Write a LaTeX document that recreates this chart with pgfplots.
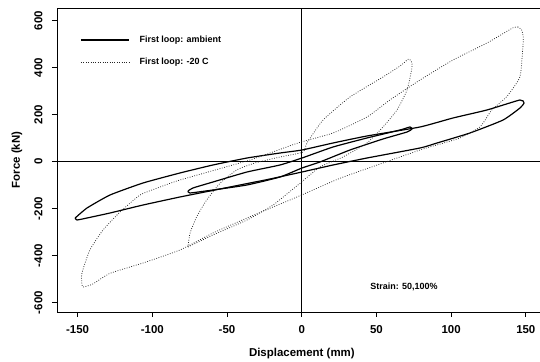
\documentclass[border=0pt]{standalone}
\usepackage{fontspec}
\setmainfont{Liberation Sans}
\usepackage{pgfplots}
\pgfplotsset{compat=1.18}
\begin{document}
\begin{tikzpicture}
\path[use as bounding box] (-57bp,-50bp) rectangle (483bp,312bp);
\begin{axis}[
  scale only axis, width=483bp, height=304bp,
  at={(0,0)}, anchor=south west,
  xmin=-163.8, xmax=159.5, ymin=-639.6, ymax=654,
  axis x line*=bottom, axis y line*=left,
  axis line style={-, line width=0.9pt},
  xtick={-150,-100,...,150}, ytick={-600,-400,...,600},
  tick align=outside, major tick length=5bp,
  tick style={line width=0.8pt, black},
  /pgf/number format/assume math mode=true,
  ticklabel style={font=\fontsize{11.5}{13}\selectfont\bfseries},
  yticklabel style={rotate=90, anchor=south},
  yticklabel shift=6bp, xticklabel shift=5bp,
  xlabel={Displacement (mm)}, ylabel={Force (kN)},
  label style={font=\fontsize{11.5}{13}\selectfont\bfseries},
  xlabel style={at={(axis description cs:0.507,-0.135)}, anchor=center},
  ylabel style={at={(axis description cs:-0.083,0.5)}, anchor=center},
  legend style={draw=none, fill=none, at={(axis description cs:0.048,0.915)}, anchor=north west,
    font=\fontsize{9}{11}\selectfont\bfseries, row sep=10bp, inner sep=0pt, nodes={inner sep=2bp}},
  legend image code/.code={\draw[#1] (0bp,0bp) -- (48bp,0bp); \path (56bp,0bp);},
  legend cell align=left,
]
\draw[line width=1pt] (axis cs:-163.8,0) -- (axis cs:159.5,0);
\draw[line width=1.2pt] (axis cs:0,-639.6) -- (axis cs:0,654);
\draw[line width=0.8pt] (rel axis cs:0,1) -- (rel axis cs:1,1);

% ambient, 150 mm
\addplot[black, line width=1.2pt, smooth, tension=0.3] coordinates {
(-151.7,-240) (-143.7,-197) (-128.3,-141.7) (-106.2,-90.6) (-81.5,-48.1) (-59.4,-14) (-36.6,15.7) (-14.5,37) (0.2,49.8) (21,79.6) (43.7,109.4) (79.2,147.7) (101.3,186) (124,220) (146.1,262.6) (148.8,249.8)
(146.1,228.5) (134.8,177.4) (112.6,122.1) (90.6,79.6) (79.2,58.3) (43.7,15.7) (21,-14) (0.2,-43.8) (-21.2,-73.6) (-41.3,-99.1) (-61.4,-124.7) (-81.5,-150.2) (-106.2,-184.3) (-128.3,-218.3) (-143.7,-239.6) (-150.4,-248.1) (-151.7,-240)
};
\addlegendentry{First loop: ambient}
% -20 C, 150 mm
\addplot[black!85, line width=0.75pt, dash pattern=on 0.8pt off 1.6pt, smooth, tension=0.3] coordinates {
(144.8,573.2) (141.5,570) (124,505.1) (101.3,432.8) (79.2,347.7) (59,262.6) (43.7,190.2) (21,122.1) (-2.5,79.6) (-34.6,7.2) (-81.5,-77.9) (-94.8,-107.7) (-108.2,-141.7) (-121.6,-214) (-133,-290.6) (-141.8,-375.7) (-147.1,-473.6) (-147.2,-515) (-146.4,-533.2)
(-140,-521) (-128.3,-475) (-106.2,-431) (-81.5,-375.7) (-59.4,-303.4) (-36.6,-239.6) (-19.2,-192.8) (-3.1,-150.2) (25.6,-70.6) (54.4,-5.5) (79.2,49.8) (86.3,63.8) (106,100.9) (119.5,148.9) (127.2,220) (137.2,276.6) (146.1,361.7) (148.3,517.9) (147.3,560) (144.8,573.2)
};
\addlegendentry{First loop: -20 C}
% ambient, 75 mm
\addplot[black, line width=1.2pt, smooth, tension=0.3, forget plot] coordinates {
(-76.1,-124.7) (-72.8,-111.9) (-59.4,-86.4) (-36.6,-43.8) (-14.5,-14) (0.2,15.7) (21,62.6) (43.7,100.9) (65.8,134.9) (72.5,147.7) (73.8,139.1) (70.5,126.4) (54.4,96.6) (32.3,49.8) (12.2,-1.3) (0.2,-26.8) (-14.5,-65.1) (-36.6,-99.1) (-59.4,-120.4) (-74.8,-133.2) (-76.1,-124.7)
};
% -20 C, 75 mm
\addplot[black!85, line width=0.75pt, dash pattern=on 0.8pt off 1.6pt, smooth, tension=0.3, forget plot] coordinates {
(-76.1,-363) (-59.4,-311.9) (-36.6,-248.1) (-19.2,-184.3) (-2.5,-99.1) (12.2,-22.6) (27.6,20) (43.7,79.6) (54.4,147.7) (63.8,220) (70.5,305.1) (73.8,398.7) (73.5,425) (71.5,437) (66,408) (54.4,360.4) (32.3,275.3) (14.3,177.4) (3.5,79.6) (0.9,41) (-14.5,20) (-31.3,-5.5) (-43.5,-35) (-54.7,-92) (-63.6,-163) (-70.3,-234) (-74.8,-305) (-76.1,-363)
};
\node[font=\fontsize{9}{11}\selectfont\bfseries] at (axis cs:68.5,-533) {Strain: 50,100\%};
\end{axis}
\end{tikzpicture}
\end{document}
